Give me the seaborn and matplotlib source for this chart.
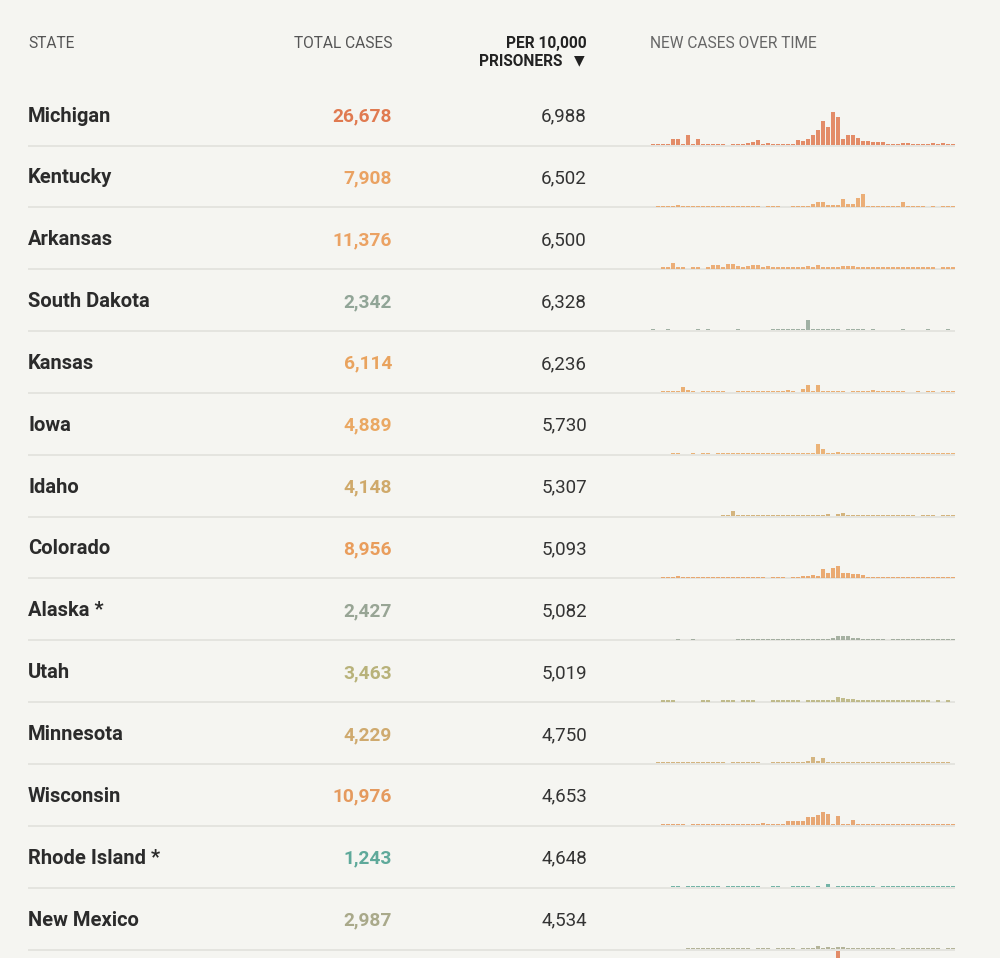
import matplotlib
matplotlib.use("Agg")
import matplotlib.pyplot as plt
import seaborn as sns
import pandas as pd

# ---------------- data ----------------
states = ["Michigan", "Kentucky", "Arkansas", "South Dakota", "Kansas", "Iowa", "Idaho",
          "Colorado", "Alaska *", "Utah", "Minnesota", "Wisconsin", "Rhode Island *", "New Mexico"]
total_cases = [26678, 7908, 11376, 2342, 6114, 4889, 4148, 8956, 2427, 3463, 4229, 10976, 1243, 2987]
per_10000 = [6988, 6502, 6500, 6328, 6236, 5730, 5307, 5093, 5082, 5019, 4750, 4653, 4648, 4534]
row_colors = ["#e07a50", "#eaa262", "#eba263", "#91a597", "#e9a35e", "#eaa863", "#cfa96a",
              "#e99d5c", "#98a595", "#b8b27a", "#cfaa6e", "#e59a5e", "#5ea99a", "#a9a98a"]
headers = ["STATE", "TOTAL CASES", "PER 10,000", "PRISONERS", "NEW CASES OVER TIME"]

# weekly new cases (relative bar heights) per state
michigan = [1.1, 1.3, 1.3, 1.1, 6, 6, 1.1, 10, 1.1, 6,
            1.1, 1.1, 1.1, 1.1, 1.1, 0, 1.1, 1.1, 1.1, 1.5,
            2.5, 4.5, 1.1, 2, 1.1, 1.1, 1.1, 1.1, 1.1, 4.5,
            4, 6, 10, 14.7, 24, 18, 33, 28, 6, 10,
            10, 7, 4, 4, 3, 3, 3, 1.1, 1.1, 1.1,
            2, 1.5, 1.1, 1.1, 1.1, 1.1, 1.4, 1.1, 1.4, 1.1,
            1.1]
kentucky = [0, 1.1, 1.1, 1.1, 1.1, 2, 1.1, 1.1, 1.1, 1.1,
            1.1, 1.1, 1.1, 1.1, 1.1, 1.1, 1.1, 1.1, 1.1, 1.1,
            1.1, 1.1, 0, 1.1, 1.1, 1.1, 0, 0, 1.1, 1.1,
            1.1, 1.1, 2.5, 4.7, 4.7, 1.3, 1.3, 1.3, 7.3, 2.5,
            2.5, 8.7, 13, 1.1, 1.1, 1.1, 1.1, 1.1, 1.1, 1.1,
            4.3, 1.1, 1.1, 1.1, 1.1, 0, 1.1, 0, 1.1, 1.1,
            1.1]
arkansas = [0, 0, 1.1, 1.1, 6, 1.5, 1.1, 0, 1.1, 1.1,
            0, 1.1, 4, 4, 1.1, 4.5, 4.5, 2.5, 1.3, 2.5,
            3.5, 3.5, 1.1, 2.5, 1.1, 1.1, 2, 1.3, 1.1, 1.3,
            1.1, 3, 1.3, 3.5, 2, 1.1, 1.1, 2, 2.5, 3,
            3, 1.1, 1.1, 1.1, 1.1, 1.1, 1.1, 1.1, 1.1, 1.1,
            1.1, 1.1, 1.1, 1.1, 1.1, 1.1, 1.1, 0, 1.1, 1.1,
            1.1]
south_dakota = [1.1, 0, 0, 1.1, 0, 0, 0, 0, 0, 1.1,
                0, 1.1, 0, 0, 0, 0, 0, 1.1, 0, 0,
                0, 0, 0, 0, 1.1, 1.1, 1.1, 1.1, 1.1, 1.1,
                1.1, 10.7, 1.5, 1.5, 1.1, 1.1, 1.1, 1.1, 0, 1.1,
                1.1, 1.1, 1.1, 0, 1.1, 0, 0, 0, 0, 0,
                1.1, 0, 0, 0, 0, 1.1, 0, 0, 0, 1.1,
                0]
kansas = [0, 0, 1.1, 1.1, 1.1, 1.1, 5.7, 2, 1.1, 0,
          1.1, 1.1, 1.1, 1.1, 1.1, 0, 0, 1.1, 1.1, 1.1,
          1.1, 1.1, 1.5, 1.3, 1.3, 1.3, 1.3, 2.5, 1.3, 0,
          3.5, 7.7, 1.1, 7.7, 1.3, 1.1, 1.5, 1.1, 1.1, 0,
          1.1, 1.1, 1.1, 1.1, 2, 1.1, 1.1, 1.1, 1.1, 1.1,
          1.1, 0, 0, 1.1, 0, 1.1, 1.1, 0, 1.1, 1.1,
          1.1]
iowa = [0, 0, 0, 0, 1.1, 1.1, 0, 0, 1.1, 0,
        1.1, 1.1, 0, 1.1, 1.1, 1.1, 1.1, 1.1, 1.1, 1.1,
        1.1, 1.1, 1.1, 1.1, 1.1, 1.1, 1.1, 1.1, 1.1, 1.1,
        1.1, 1.1, 1.1, 10, 5, 1.5, 1.1, 2, 1.1, 1.1,
        1.1, 1.1, 1.1, 1.1, 1.1, 1.1, 1.1, 1.1, 1.1, 1.1,
        1.1, 1.1, 1.1, 1.1, 1.1, 1.1, 1.1, 1.1, 1.1, 1.1,
        1.1]
idaho = [0, 0, 0, 0, 0, 0, 0, 0, 0, 0,
         0, 0, 0, 0, 1.1, 1.1, 5, 1.1, 1.1, 1.1,
         1.1, 1.1, 1.1, 1.1, 1.1, 1.1, 1.1, 1.1, 1.1, 1.1,
         1.1, 1.1, 1.1, 1.1, 1.1, 2.5, 0, 2, 3, 1.1,
         1.1, 1.1, 1.1, 1.1, 1.1, 1.1, 1.1, 1.1, 1.1, 1.1,
         1.1, 1.1, 1.1, 0, 1.1, 1.1, 1.1, 0, 1.1, 1.1,
         1.1]
colorado = [0, 0, 1.1, 1.1, 1.1, 2, 1.1, 1.1, 1.1, 1.1,
            1.1, 1.1, 1.1, 1.1, 1.1, 1.1, 1.1, 1.1, 1.1, 1.1,
            1.1, 1.1, 1.1, 0, 1.1, 1.1, 1.1, 0, 1.1, 1.1,
            1.5, 1.5, 3, 2, 8.7, 5.3, 9.7, 12, 5, 4.5,
            3.5, 3.5, 2.5, 1.1, 1.1, 1.1, 1.1, 1.1, 1.1, 1.1,
            1.1, 1.1, 1.1, 1.1, 1.1, 1.1, 1.1, 1.1, 1.1, 1.1,
            1.1]
alaska = [0, 0, 0, 0, 0, 1.1, 0, 0, 1.1, 0,
          0, 0, 0, 0, 0, 0, 0, 1.1, 1.1, 1.1,
          1.1, 1.1, 1.1, 1.1, 1.1, 1.1, 1.1, 1.1, 1.1, 1.1,
          1.1, 1.1, 1.1, 1.1, 1.1, 1.1, 1.3, 3.3, 3.3, 3.3,
          1.3, 2, 1.1, 1.1, 1.1, 1.1, 1.1, 0, 1.1, 1.1,
          1.1, 1.1, 1.1, 1.1, 1.1, 1.1, 1.1, 1.1, 1.1, 1.1,
          1.1]
utah = [0, 0, 1.1, 1.1, 1.1, 0, 0, 0, 0, 0,
        1.1, 1.1, 0, 0, 1.1, 1.1, 1.1, 0, 1.1, 1.1,
        1.1, 0, 0, 0, 1.1, 1.1, 1.1, 1.1, 1.1, 1.1,
        0, 1.1, 2, 2, 2, 1.1, 1.1, 4.3, 3.5, 2.5,
        2.5, 1.1, 1.1, 1.1, 1.1, 1.1, 1.1, 1.1, 1.1, 1.1,
        1.1, 1.1, 1.1, 1.1, 1.1, 1.1, 0, 1.1, 0, 1.1,
        0]
minnesota = [0, 1.1, 1.1, 1.1, 1.1, 1.1, 1.1, 1.1, 1.1, 1.1,
             1.1, 1.1, 1.1, 1.1, 1.1, 0, 1.1, 1.1, 1.1, 1.1,
             1.1, 1.1, 0, 0, 1.1, 1.1, 1.1, 1.1, 1.1, 1.1,
             1.1, 2, 6.7, 2, 5.7, 1.1, 1.1, 1.3, 1.1, 1.1,
             1.1, 1.1, 1.1, 1.1, 1.1, 1.1, 1.1, 1.1, 1.1, 1.1,
             1.1, 1.1, 1.1, 1.1, 1.1, 1.1, 1.1, 1.1, 1.1, 1.1,
             0]
wisconsin = [0, 0, 1.1, 1.1, 1.1, 1.1, 1.1, 0, 1.1, 1.3,
             1.1, 1.1, 1.1, 1.1, 1.1, 1.1, 1.1, 1.1, 1.1, 1.1,
             1.1, 1.1, 2.7, 1.1, 1.1, 1.1, 1.1, 4.5, 4.5, 4.5,
             4, 8.7, 8.7, 10, 13, 11.7, 1.1, 9, 1.1, 1.1,
             5, 1.5, 1.1, 1.1, 1.1, 1.1, 1.1, 1.1, 1.1, 1.1,
             1.1, 1.1, 1.1, 1.1, 1.1, 1.1, 1.1, 1.1, 1.1, 1.1,
             1.1]
rhode_island = [0, 0, 0, 0, 1.1, 1.1, 0, 1.1, 1.1, 1.1,
                1.1, 1.1, 1.1, 1.1, 0, 1.1, 1.1, 1.1, 1.1, 1.1,
                1.1, 1.1, 0, 0, 1.1, 1.1, 0, 0, 1.1, 1.1,
                1.1, 1.1, 0, 1.3, 0, 2.7, 0, 1.5, 1.1, 1.1,
                1.1, 1.1, 1.1, 1.1, 1.1, 0, 1.1, 1.1, 1.1, 1.1,
                1.1, 1.1, 1.1, 1.1, 1.1, 1.1, 1.1, 1.1, 1.1, 1.1,
                1.1]
new_mexico = [0, 0, 0, 0, 0, 0, 0, 1.1, 1.1, 1.1,
              1.1, 1.1, 1.1, 1.1, 1.1, 1.1, 1.1, 1.1, 1.1, 1.1,
              0, 1.1, 1.1, 1.1, 0, 1.1, 1.1, 1.1, 1.1, 0,
              1.1, 1.1, 1.1, 2.7, 1.3, 1.5, 1.3, 1.5, 1.5, 1.1,
              1.1, 1.1, 1.1, 1.1, 1.1, 1.1, 1.1, 1.3, 1.3, 0,
              1.1, 1.1, 1.1, 1.1, 1.1, 1.1, 1.1, 1.1, 0, 1.1,
              1.1]
# next (cut-off) row: only its tallest bar reaches into view
next_row = [0, 0, 0, 0, 0, 0, 0, 0, 0, 0,
            0, 0, 0, 0, 0, 0, 0, 0, 0, 0,
            0, 0, 0, 0, 0, 0, 0, 0, 0, 0,
            0, 0, 0, 0, 0, 0, 0, 60, 0, 0,
            0, 0, 0, 0, 0, 0, 0, 0, 0, 0,
            0, 0, 0, 0, 0, 0, 0, 0, 0, 0,
            0]
series = [michigan, kentucky, arkansas, south_dakota, kansas, iowa, idaho, colorado,
          alaska, utah, minnesota, wisconsin, rhode_island, new_mexico]
next_color = "#e07a50"

# ---------------- style ----------------
BG = "#f5f5f1"
W, H = 1000, 958
ROW_H = 61.85
SPARK_H = 70

sns.set_theme(style="white")
plt.rcParams["font.family"] = ["Roboto", "DejaVu Sans"]

fig = plt.figure(figsize=(W / 100, H / 100), dpi=100, facecolor=BG)
ax0 = fig.add_axes([0, 0, 1, 1])
ax0.set_xlim(0, W)
ax0.set_ylim(H, 0)
ax0.axis("off")

# header
hc = "#555555"
HFS = 11.2
ax0.text(28, 47.5, headers[0], fontsize=HFS, color=hc, ha="left", va="baseline")
ax0.text(392, 47.5, headers[1], fontsize=HFS, color=hc, ha="right", va="baseline")
ax0.text(587, 47.5, headers[2], fontsize=HFS, color="#222222", ha="right", va="baseline",
         fontweight="bold")
ax0.text(562, 66, headers[3], fontsize=HFS, color="#222222", ha="right", va="baseline",
         fontweight="bold")
ax0.text(579.5, 64.5, "\u25BC", fontsize=10, color="#222222", ha="center", va="baseline",
         family="DejaVu Sans")
ax0.text(650, 47.5, headers[4], fontsize=HFS, color="#666666", ha="left", va="baseline")


def draw_spark(vals, color, yb):
    sax = fig.add_axes([650 / W, (H - yb) / H, 305 / W, SPARK_H / H])
    df = pd.DataFrame({"week": list(range(len(vals))), "cases": vals})
    sns.barplot(data=df, x="week", y="cases", ax=sax, color=color, width=0.8,
                linewidth=0, saturation=1, errorbar=None, alpha=0.85)
    sax.set_xlim(-0.5, len(vals) - 0.5)
    sax.set_ylim(0, SPARK_H)
    sax.axis("off")


for k in range(len(states)):
    yb = 145.5 + ROW_H * k
    base = 121.5 + ROW_H * k
    ax0.plot([28, 955], [yb, yb], color="#dfdfda", lw=1.1, zorder=1, solid_capstyle="butt")
    ax0.text(28, base, states[k], fontsize=14.5, fontweight="bold", color="#2b2b2b",
             ha="left", va="baseline")
    ax0.text(392, base, f"{total_cases[k]:,}", fontsize=13.8, fontweight="bold",
             color=row_colors[k], ha="right", va="baseline")
    ax0.text(587, base, f"{per_10000[k]:,}", fontsize=13.5, color="#333333",
             ha="right", va="baseline")
    draw_spark(series[k], row_colors[k], yb - 0.6)

draw_spark(next_row, next_color, 145.5 + ROW_H * len(states))

fig.savefig("out.png", dpi=100, facecolor=BG)
